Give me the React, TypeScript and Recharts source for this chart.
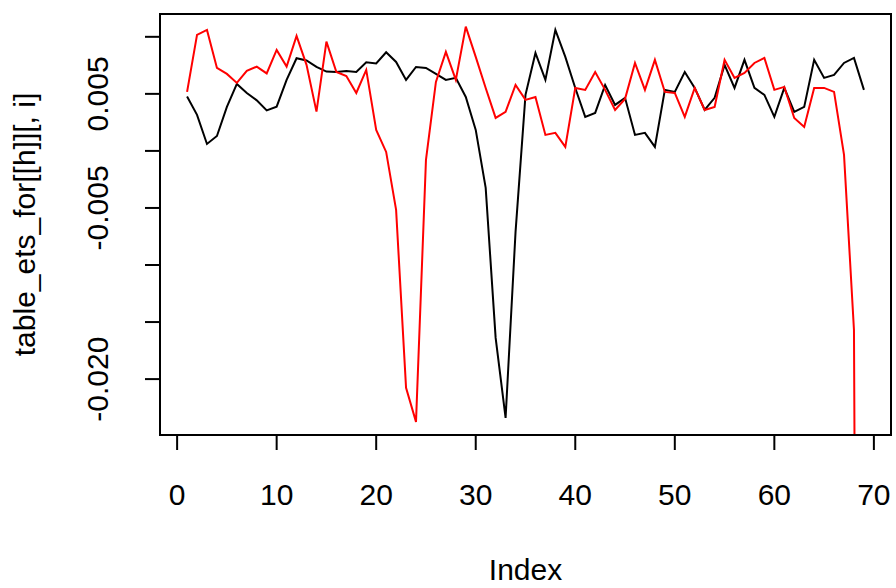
import React from "react";
import { LineChart, Line, XAxis, YAxis, ReferenceArea, Label } from "recharts";

const FONT = '"Liberation Sans", Arial, Helvetica, sans-serif';

const index = Array.from({ length: 69 }, (_, i) => i + 1);

const blackSeries = [
  0.00476, 0.00316, 0.00061, 0.00131, 0.00386, 0.00587, 0.00508, 0.00443, 0.00355, 0.00388,
  0.00622, 0.00812, 0.00793, 0.00736, 0.00695, 0.00692, 0.00701, 0.00692, 0.00777, 0.00767,
  0.00865, 0.0078, 0.00622, 0.00736, 0.00727, 0.00675, 0.00622, 0.0064, 0.00473, 0.00184,
  -0.00324, -0.01639, -0.0234, -0.0071, 0.00491, 0.00859, 0.00622, 0.0106, 0.00824, 0.00552,
  0.00298, 0.00333, 0.00578, 0.00403, 0.00465, 0.0014, 0.00158, 0.00035, 0.00535, 0.00517,
  0.00692, 0.00552, 0.00359, 0.00465, 0.00754, 0.00552, 0.00798, 0.00552, 0.00491, 0.00298,
  0.00552, 0.00342, 0.00386, 0.00798, 0.0064, 0.00666, 0.00771, 0.00815, 0.00535,
];

const redSeries = [
  0.00517, 0.01017, 0.0106, 0.00727, 0.00675, 0.00596, 0.00701, 0.00739, 0.00679, 0.00885,
  0.00739, 0.01008, 0.00754, 0.00344, 0.00958, 0.00692, 0.00657, 0.00508, 0.0071, 0.00184,
  -0.00009, -0.00517, -0.02077, -0.02375, -0.00079, 0.00605, 0.00868, 0.00622, 0.01089, 0.00824,
  0.00552, 0.00289, 0.00342, 0.00578, 0.00447, 0.00473, 0.0014, 0.00158, 0.00035, 0.00552,
  0.00535, 0.00692, 0.00535, 0.00359, 0.00456, 0.00771, 0.00535, 0.00798, 0.00517, 0.00508,
  0.00298, 0.00552, 0.00359, 0.00386, 0.00798, 0.0064, 0.00684, 0.00771, 0.00815, 0.00535,
  0.00561, 0.00289, 0.0021, 0.00552, 0.00552, 0.00517, -0.00035, -0.01569, -0.2,
];

const xTicks = [0, 10, 20, 30, 40, 50, 60, 70];
const yTicks = [-0.02, -0.015, -0.01, -0.005, 0, 0.005, 0.01];
const yTickLabels = ["-0.020", "", "", "-0.005", "", "0.005", ""];

const X_DOMAIN: [number, number] = [-1.72, 71.72];
const Y_DOMAIN: [number, number] = [-0.0249, 0.012];

const rows = index.map((idx, i) => ({ idx, black: blackSeries[i], red: redSeries[i] }));

function XTick(props: any) {
  const { x, y, payload } = props;
  return (
    <text x={x} y={y + 55} textAnchor="middle" fontSize={30} fontFamily={FONT} fill="#000">
      {payload.value}
    </text>
  );
}

function YTick(props: any) {
  const { x, y, payload } = props;
  const k = yTicks.findIndex((t) => Math.abs(t - payload.value) < 1e-9);
  const txt = k >= 0 ? yTickLabels[k] : "";
  if (!txt) return null;
  const bx = x - 37;
  return (
    <text
      x={bx}
      y={y}
      transform={`rotate(-90 ${bx} ${y})`}
      textAnchor="middle"
      fontSize={30}
      fontFamily={FONT}
      fill="#000"
    >
      {txt}
    </text>
  );
}

export default function App() {
  return (
    <div style={{ position: "absolute", left: 0, top: 0, width: 896, height: 588, background: "#fff" }}>
      <LineChart width={896} height={588} data={rows} margin={{ top: 14, right: 5, bottom: 0, left: 0 }}>
        <XAxis
          dataKey="idx"
          type="number"
          domain={X_DOMAIN}
          allowDataOverflow
          ticks={xTicks}
          interval={0}
          height={153}
          tickSize={15}
          tickMargin={0}
          axisLine={{ stroke: "#000", strokeWidth: 2 }}
          tickLine={{ stroke: "#000", strokeWidth: 2 }}
          tick={<XTick />}
        >
          <Label
            content={(p: any) => {
              const vb = p.viewBox;
              return (
                <text x={vb.x + vb.width / 2} y={vb.y + 145} textAnchor="middle" fontSize={30} fontFamily={FONT} fill="#000">
                  Index
                </text>
              );
            }}
          />
        </XAxis>
        <YAxis
          type="number"
          domain={Y_DOMAIN}
          allowDataOverflow
          ticks={yTicks}
          interval={0}
          width={160}
          tickSize={15}
          tickMargin={0}
          axisLine={{ stroke: "#000", strokeWidth: 2 }}
          tickLine={{ stroke: "#000", strokeWidth: 2 }}
          tick={<YTick />}
        >
          <Label
            content={(p: any) => {
              const vb = p.viewBox;
              const cx = 35;
              const cy = vb.y + vb.height / 2;
              return (
                <text
                  x={cx}
                  y={cy}
                  transform={`rotate(-90 ${cx} ${cy})`}
                  textAnchor="middle"
                  fontSize={30}
                  fontFamily={FONT}
                  fill="#000"
                >
                  table_ets_for[[h]][, i]
                </text>
              );
            }}
          />
        </YAxis>
        <ReferenceArea
          x1={X_DOMAIN[0]}
          x2={X_DOMAIN[1]}
          y1={Y_DOMAIN[0]}
          y2={Y_DOMAIN[1]}
          fill="none"
          fillOpacity={0}
          stroke="#000"
          strokeWidth={2}
          ifOverflow="visible"
        />
        <Line type="linear" dataKey="black" stroke="#000" strokeWidth={2} dot={false} isAnimationActive={false} />
        <Line type="linear" dataKey="red" stroke="#ff0000" strokeWidth={2} dot={false} isAnimationActive={false} />
      </LineChart>
    </div>
  );
}
